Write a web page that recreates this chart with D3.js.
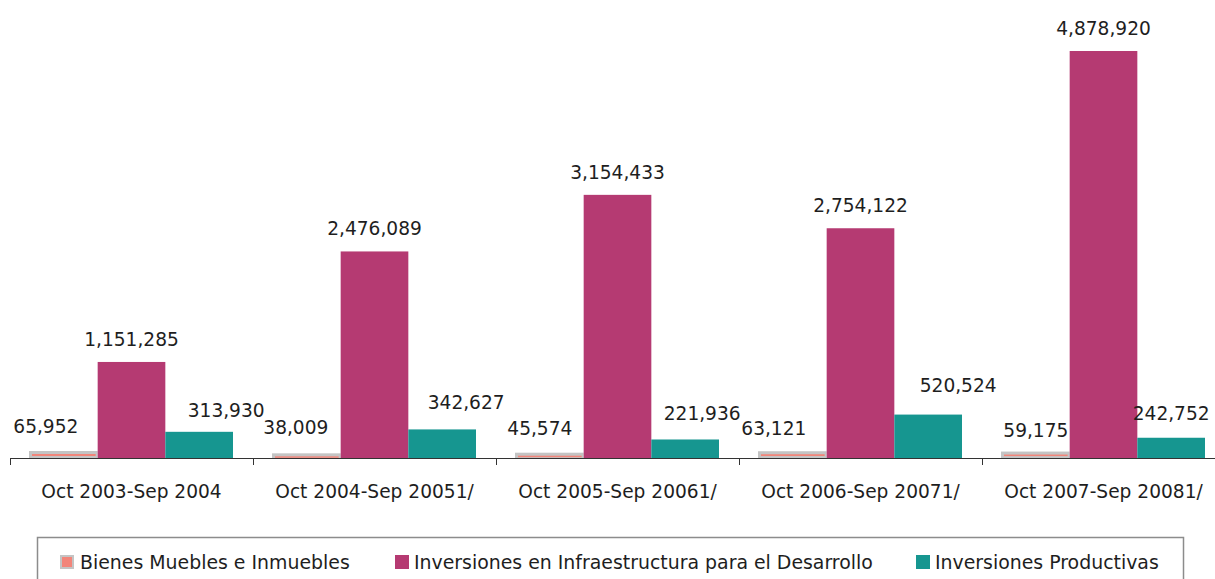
<!DOCTYPE html>
<html>
<head>
<meta charset="utf-8">
<script src="https://cdn.jsdelivr.net/npm/d3@7"></script>
<style>
  body { margin: 0; background: #fff; }
  svg { display: block; font-family: "DejaVu Sans", Verdana, sans-serif; }
</style>
</head>
<body>
<svg id="chart"></svg>
<script>
// periods on the x axis
const periods = [
  "Oct 2003-Sep 2004", "Oct 2004-Sep 20051/", "Oct 2005-Sep 20061/",
  "Oct 2006-Sep 20071/", "Oct 2007-Sep 20081/"
];
const seriesNames = [
  "Bienes Muebles e Inmuebles",
  "Inversiones en Infraestructura para el Desarrollo",
  "Inversiones Productivas"
];
const bienes = [65952, 38009, 45574, 63121, 59175];
const infra = [1151285, 2476089, 3154433, 2754122, 4878920];
const productivas = [313930, 342627, 221936, 520524, 242752];

// manual label nudges (dx, lift above bar) like the hand-moved Excel labels
const labelNudge = [
  [[-18, 19], [-11, 21], [-10, 19], [-19, 18], [0, 16]],
  [[0, 16], [0, 16], [0, 16], [0, 16], [0, 16]],
  [[27, 15], [24, 20], [17, 19], [30, 23], [0, 18]]
];

const colors = ["#f2857a", "#b53a72", "#169690"];
const bienesEdge = "#c4c4c4";

const width = 1215, height = 579;
const svg = d3.select("#chart").attr("width", width).attr("height", height);

const baseY = 458;
const x0 = d3.scaleBand().domain(periods).range([10, 10 + 243 * periods.length]);
const x1 = d3.scaleBand().domain(seriesNames).range([20, 223]);
const y = d3.scaleLinear().domain([0, d3.max(infra)]).range([baseY, 51]);

const allSeries = [bienes, infra, productivas];
const rows = [];
allSeries.forEach((vals, si) => {
  vals.forEach((v, pi) => {
    rows.push({ s: seriesNames[si], si, p: periods[pi], pi, v });
  });
});

const fmt = d3.format(",");
const bx = d => x0(d.p) + x1(d.s);

// gray edge behind the small "bienes" bars
svg.append("g").selectAll("rect")
  .data(rows.filter(d => d.si === 0))
  .join("rect")
    .attr("x", d => bx(d) - 1)
    .attr("y", d => y(d.v) - 1.5)
    .attr("width", x1.bandwidth() + 1)
    .attr("height", d => baseY - y(d.v) + 1.5)
    .attr("fill", bienesEdge);

// bars
svg.append("g").selectAll("rect")
  .data(rows)
  .join("rect")
    .attr("x", d => bx(d) + (d.si === 0 ? 2 : 0))
    .attr("y", d => y(d.v) + (d.si === 0 ? 1.5 : 0))
    .attr("width", d => x1.bandwidth() - (d.si === 0 ? 4 : 0))
    .attr("height", d => d.si === 0 ? Math.max(1.5, baseY - y(d.v) - 3.5) : baseY - y(d.v))
    .attr("fill", d => colors[d.si]);

// value labels
svg.append("g").selectAll("text")
  .data(rows)
  .join("text")
    .attr("x", d => bx(d) + x1.bandwidth() / 2 + labelNudge[d.si][d.pi][0])
    .attr("y", d => y(d.v) - labelNudge[d.si][d.pi][1])
    .attr("text-anchor", "middle")
    .attr("font-size", 18.6)
    .attr("fill", "#1e1e1e")
    .text(d => fmt(d.v));

// x axis
const axis = svg.append("g")
  .attr("transform", `translate(0,${baseY})`)
  .call(d3.axisBottom(x0).tickSize(0).tickPadding(27));
axis.select(".domain").attr("stroke", "#333").attr("d", `M10,0.5H${width}`);
axis.selectAll("text").attr("font-size", 18.6).attr("fill", "#1e1e1e")
  .attr("font-family", "DejaVu Sans, Verdana, sans-serif");
axis.selectAll(".sep")
  .data(periods)
  .join("line")
    .attr("class", "sep")
    .attr("x1", d => x0(d) + 0.5).attr("x2", d => x0(d) + 0.5)
    .attr("y1", 0).attr("y2", 7)
    .attr("stroke", "#333");

// legend
const legend = svg.append("g");
legend.append("rect")
  .attr("x", 37.5).attr("y", 537.5)
  .attr("width", 1146).attr("height", 60)
  .attr("fill", "none").attr("stroke", "#8c8c8c").attr("stroke-width", 1.5);

const legendX = [60, 395, 916];
const item = legend.selectAll(".item")
  .data(seriesNames)
  .join("g")
    .attr("class", "item")
    .attr("transform", (d, i) => `translate(${legendX[i]},562)`);
item.append("rect")
  .attr("x", (d, i) => i === 0 ? 1 : 0).attr("y", (d, i) => i === 0 ? -6 : -7)
  .attr("width", (d, i) => i === 0 ? 12 : 14).attr("height", (d, i) => i === 0 ? 12 : 14)
  .attr("fill", (d, i) => colors[i])
  .attr("stroke", (d, i) => i === 0 ? bienesEdge : "none")
  .attr("stroke-width", 2);
item.append("text")
  .attr("x", (d, i) => i === 0 ? 20 : 19)
  .attr("y", 7)
  .attr("font-size", 18.9)
  .attr("fill", "#1e1e1e")
  .text(d => d);
</script>
</body>
</html>
